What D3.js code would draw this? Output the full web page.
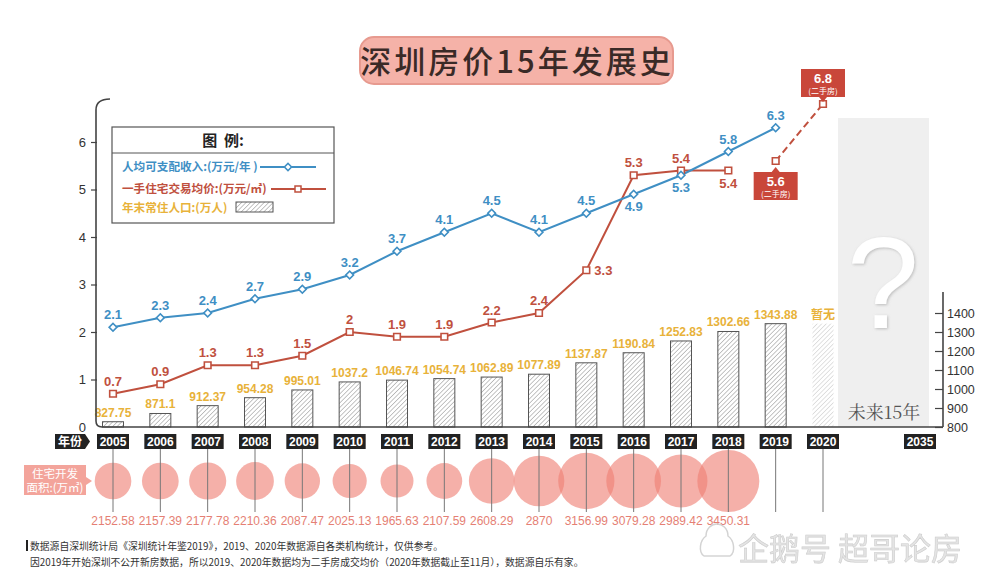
<!DOCTYPE html>
<html><head><meta charset="utf-8">
<script src="https://cdn.jsdelivr.net/npm/d3@7/dist/d3.min.js"></script>
<style>
body{margin:0;background:#fff}
svg{display:block}
text{font-family:"Liberation Sans",Arial,"Noto Sans CJK SC",sans-serif}
.cjk{font-family:"Noto Sans CJK SC","Liberation Sans",sans-serif}
</style>
</head><body>
<svg id="c" width="1000" height="584"></svg>
<script>
// ---------- data ----------
const years = ["2005","2006","2007","2008","2009","2010","2011","2012","2013","2014","2015","2016","2017","2018","2019","2020"];
const futureYear = "2035";
const income = [2.1,2.3,2.4,2.7,2.9,3.2,3.7,4.1,4.5,4.1,4.5,4.9,5.3,5.8,6.3,null];
const newHomePrice = [0.7,0.9,1.3,1.3,1.5,2,1.9,1.9,2.2,2.4,3.3,5.3,5.4,5.4,null,null];
const resalePrice = [null,null,null,null,null,null,null,null,null,null,null,null,null,null,5.6,6.8];
const population = [827.75,871.1,912.37,954.28,995.01,1037.2,1046.74,1054.74,1062.89,1077.89,1137.87,1190.84,1252.83,1302.66,1343.88,null];
const devArea = [2152.58,2157.39,2177.78,2210.36,2087.47,2025.13,1965.63,2107.59,2608.29,2870,3156.99,3079.28,2989.42,3450.31,null,null];
const leftTicks = [0,1,2,3,4,5,6];
const rightTicks = [800,900,1000,1100,1200,1300,1400];
const title = "深圳房价15年发展史";
const legendTitle = "图  例:";
const legendIncome = "人均可支配收入:(万元/年 )";
const legendPrice = "一手住宅交易均价:(万元/㎡)";
const legendPop = "年末常住人口:(万人)";
const noDataLabel = "暂无";
const resaleNote = "(二手房)";
const futureLabel = "未来15年";
const yearTag = "年份";
const areaTag = ["住宅开发","面积:(万㎡)"];
const notes = ["数据源自深圳统计局《深圳统计年鉴2019》，2019、2020年数据源自各类机构统计，仅供参考。",
               "因2019年开始深圳不公开新房数据，所以2019、2020年数据均为二手房成交均价（2020年数据截止至11月），数据源自乐有家。"];
const watermark = "企鹅号 超哥论房";
// label placement choices
const incomeBelow = new Set(["2016","2017"]);
const priceBelow = new Set(["2018"]);
const priceRight = new Set(["2015"]);

// ---------- colours ----------
const BLUE="#3f8fc4", RED="#c0503e", YEL="#e8b23a", PINK="#ef7f74", AX="#444";

const svg = d3.select("#c");
const defs = svg.append("defs");
const hatch = defs.append("pattern").attr("id","hatch").attr("width",3.2).attr("height",3.2)
  .attr("patternUnits","userSpaceOnUse").attr("patternTransform","rotate(45)");
hatch.append("rect").attr("width",3.2).attr("height",3.2).attr("fill","#fff");
hatch.append("line").attr("x1",0).attr("y1",0).attr("x2",0).attr("y2",3.2).attr("stroke","#8a8a8a").attr("stroke-width",1);
const hatch2 = defs.append("pattern").attr("id","hatch2").attr("width",3.2).attr("height",3.2)
  .attr("patternUnits","userSpaceOnUse").attr("patternTransform","rotate(45)");
hatch2.append("rect").attr("width",3.2).attr("height",3.2).attr("fill","#fff");
hatch2.append("line").attr("x1",0).attr("y1",0).attr("x2",0).attr("y2",3.2).attr("stroke","#c4c4c4").attr("stroke-width",1);
const sh = defs.append("filter").attr("id","sh").attr("x","-20%").attr("y","-20%").attr("width","140%").attr("height","140%");
sh.append("feDropShadow").attr("dx",1).attr("dy",1).attr("stdDeviation",1.5).attr("flood-color","#999").attr("flood-opacity",0.6);

// ---------- scales ----------
const x = d3.scalePoint().domain(years).range([113, 823]);
const yL = d3.scaleLinear().domain([0,6]).range([427, 142]);
const yR = d3.scaleLinear().domain([800,1400]).range([427, 313]);
const rA = d3.scaleLinear().domain([1965.63, 3450.31]).range([16.5, 31]);
const X0 = 96, XR = 943, Y0 = 427;

// ---------- title ----------
svg.append("rect").attr("x",360).attr("y",37).attr("width",313).attr("height",47).attr("rx",14)
  .attr("fill","#f5b2a8").attr("stroke","#e79a8f").attr("stroke-width",2);
svg.append("text").attr("class","cjk").attr("x",517).attr("y",73).attr("text-anchor","middle")
  .attr("font-size",31).attr("font-weight",500).attr("letter-spacing",3).attr("fill","#3a2a27").text(title);

// ---------- future box ----------
svg.append("rect").attr("x",838).attr("y",118).attr("width",91).attr("height",Y0-118).attr("fill","#efefef");
svg.append("text").attr("x",883).attr("y",328).attr("text-anchor","middle").attr("font-family","Liberation Serif, DejaVu Serif, serif")
  .attr("font-size",130).attr("fill","#fff").attr("filter","url(#sh)").text("?");
svg.append("text").attr("class","cjk").attr("x",884).attr("y",419).attr("text-anchor","middle")
  .style("font-family","'Noto Serif CJK SC','Liberation Serif',serif").attr("font-size",18).attr("fill","#555").text(futureLabel);

// ---------- bars ----------
const popData = years.map((y,i)=>({y, v: population[i], ph: population[i]==null}));
// placeholder bar for missing year uses last known value
popData.forEach((d,i)=>{ if(d.v==null) d.show = population[i-1]; else d.show = d.v; });
svg.append("g").selectAll("rect").data(popData).join("rect")
  .attr("x",d=>x(d.y)-10.5).attr("width",21)
  .attr("y",d=>yR(d.show)).attr("height",d=>Y0-yR(d.show))
  .attr("fill",d=>d.ph?"url(#hatch2)":"url(#hatch)")
  .attr("stroke",d=>d.ph?"none":"#555").attr("stroke-width",1);
svg.append("g").selectAll("text").data(popData).join("text")
  .attr("x",d=>x(d.y)).attr("y",d=>yR(d.show)-5).attr("text-anchor","middle")
  .attr("font-size",12).attr("font-weight",700).attr("fill",YEL)
  .attr("class",d=>d.ph?"cjk":null)
  .text(d=>d.ph?noDataLabel:String(d.v));

// ---------- axes ----------
svg.append("path").attr("d",`M110,99 Q${X0},99 ${X0},110 L${X0},${Y0-6} Q${X0},${Y0} ${X0+6},${Y0} L${XR},${Y0}`)
  .attr("fill","none").attr("stroke",AX).attr("stroke-width",1.6);
const gl = svg.append("g").attr("transform",`translate(${X0+1},0)`)
  .call(d3.axisLeft(yL).tickValues(leftTicks).tickSize(6).tickPadding(5).tickFormat(d3.format("d")));
gl.select(".domain").remove();
gl.selectAll("line").attr("stroke",AX).attr("stroke-width",1.2);
gl.selectAll(".tick").filter(d=>d===0).select("line").remove();
gl.selectAll("text").attr("font-size",13).attr("fill","#333").attr("font-family","Liberation Sans, Arial");
svg.append("line").attr("x1",XR).attr("x2",XR).attr("y1",292).attr("y2",Y0).attr("stroke",AX).attr("stroke-width",1.6);
const gr = svg.append("g").attr("transform",`translate(${XR},0)`)
  .call(d3.axisRight(yR).tickValues(rightTicks).tickSize(0).tickPadding(4).tickFormat(d3.format("d")));
gr.select(".domain").remove();
gr.selectAll(".tick").append("line").attr("x1",-8).attr("x2",0).attr("stroke",AX).attr("stroke-width",1.2);
gr.selectAll("text").attr("font-size",12.5).attr("fill","#333").attr("font-family","Liberation Sans, Arial");

// ---------- lines ----------
const incData = years.map((y,i)=>({y,v:income[i]})).filter(d=>d.v!=null);
const priData = years.map((y,i)=>({y,v:newHomePrice[i]})).filter(d=>d.v!=null);
const resData = years.map((y,i)=>({y,v:resalePrice[i]})).filter(d=>d.v!=null);
const line = d3.line().x(d=>x(d.y)).y(d=>yL(d.v));
svg.append("path").datum(priData).attr("d",line).attr("fill","none").attr("stroke",RED).attr("stroke-width",2);
svg.append("path").datum(resData).attr("d",line).attr("fill","none").attr("stroke",RED).attr("stroke-width",2).attr("stroke-dasharray","7,4");
svg.append("path").datum(incData).attr("d",line).attr("fill","none").attr("stroke",BLUE).attr("stroke-width",2);

const sq = d3.symbol().type(d3.symbolSquare).size(44);
svg.append("g").selectAll("path").data(priData.concat(resData)).join("path")
  .attr("d",sq).attr("transform",d=>`translate(${x(d.y)},${yL(d.v)})`)
  .attr("fill","#fff").attr("stroke",RED).attr("stroke-width",1.6);
svg.append("g").selectAll("path").data(incData).join("path")
  .attr("d",d3.symbol().type(d3.symbolSquare).size(30)).attr("transform",d=>`translate(${x(d.y)},${yL(d.v)}) rotate(45)`)
  .attr("fill","#fff").attr("stroke",BLUE).attr("stroke-width",1.6);

svg.append("g").selectAll("text").data(incData).join("text")
  .attr("x",d=>x(d.y)).attr("y",d=>incomeBelow.has(d.y)? yL(d.v)+17 : yL(d.v)-8)
  .attr("text-anchor","middle").attr("font-size",13).attr("font-weight",700).attr("fill",BLUE).text(d=>d.v);
svg.append("g").selectAll("text").data(priData).join("text")
  .attr("x",d=>priceRight.has(d.y)? x(d.y)+8 : x(d.y))
  .attr("y",d=>priceBelow.has(d.y)? yL(d.v)+17 : priceRight.has(d.y)? yL(d.v)+5 : yL(d.v)-8)
  .attr("text-anchor",d=>priceRight.has(d.y)?"start":"middle")
  .attr("font-size",13).attr("font-weight",700).attr("fill",RED).text(d=>d.v);

// resale callouts
resData.forEach((d,i)=>{
  const cx = x(d.y), cy = yL(d.v);
  const below = i===0;
  const top = below ? cy+11 : cy-35;
  const g = svg.append("g");
  g.append("rect").attr("x",cx-22).attr("y",top).attr("width",44).attr("height",28).attr("fill","#c9473a");
  const tri = below ? `M${cx-4},${top} L${cx},${top-5} L${cx+4},${top}Z` : `M${cx-4},${top+28} L${cx},${top+33} L${cx+4},${top+28}Z`;
  g.append("path").attr("d",tri).attr("fill","#c9473a");
  g.append("text").attr("x",cx).attr("y",top+14).attr("text-anchor","middle").attr("font-size",13).attr("font-weight",700).attr("fill","#fff").text(d.v);
  g.append("text").attr("class","cjk").attr("x",cx).attr("y",top+24.5).attr("text-anchor","middle").attr("font-size",8).attr("fill","#fff").text(resaleNote);
});

// ---------- legend ----------
const lg = svg.append("g");
lg.append("rect").attr("x",112).attr("y",127).attr("width",222).attr("height",96).attr("fill","#fff").attr("stroke","#555").attr("stroke-width",1.2);
lg.append("line").attr("x1",112).attr("x2",334).attr("y1",153).attr("y2",153).attr("stroke","#555").attr("stroke-width",1);
lg.append("text").attr("class","cjk").attr("x",223).attr("y",146).attr("text-anchor","middle").attr("font-size",15).attr("font-weight",700).attr("fill","#222").attr("xml:space","preserve").text(legendTitle);
lg.append("text").attr("class","cjk").attr("x",122).attr("y",171).attr("font-size",11.6).attr("font-weight",700).attr("fill",BLUE).text(legendIncome);
lg.append("line").attr("x1",260).attr("x2",316).attr("y1",167).attr("y2",167).attr("stroke",BLUE).attr("stroke-width",2);
lg.append("path").attr("d",d3.symbol().type(d3.symbolSquare).size(26)).attr("transform","translate(288,167) rotate(45)").attr("fill","#fff").attr("stroke",BLUE).attr("stroke-width",1.5);
lg.append("text").attr("class","cjk").attr("x",122).attr("y",193).attr("font-size",11.6).attr("font-weight",700).attr("fill",RED).text(legendPrice);
lg.append("line").attr("x1",271).attr("x2",326).attr("y1",189).attr("y2",189).attr("stroke",RED).attr("stroke-width",2);
lg.append("path").attr("d",d3.symbol().type(d3.symbolSquare).size(36)).attr("transform","translate(298,189)").attr("fill","#fff").attr("stroke",RED).attr("stroke-width",1.5);
lg.append("text").attr("class","cjk").attr("x",122).attr("y",212).attr("font-size",11.6).attr("font-weight",700).attr("fill",YEL).text(legendPop);
lg.append("rect").attr("x",236).attr("y",202).attr("width",37).attr("height",10).attr("fill","url(#hatch)").attr("stroke","#555").attr("stroke-width",1);

// ---------- year tags ----------
const yt = svg.append("g");
yt.append("path").attr("d","M55,434 L85,434 L90,441.5 L85,449 L55,449Z").attr("fill","#222");
yt.append("text").attr("class","cjk").attr("x",70).attr("y",446).attr("text-anchor","middle").attr("font-size",12).attr("font-weight",700).attr("fill","#fff").text(yearTag);
const tagYears = years.map(y=>({y, cx:x(y)})).concat([{y:futureYear, cx:920}]);
yt.selectAll("rect.t").data(tagYears).join("rect").attr("class","t")
  .attr("x",d=>d.cx-16).attr("y",434).attr("width",32).attr("height",15).attr("fill","#222");
yt.selectAll("text.t").data(tagYears).join("text").attr("class","t")
  .attr("x",d=>d.cx).attr("y",446).attr("text-anchor","middle").attr("font-size",12).attr("font-weight",700).attr("fill","#fff").text(d=>d.y);

// ---------- development area bubbles ----------
const areaData = years.map((y,i)=>({y,v:devArea[i]}));
const CY = 481;
svg.append("g").selectAll("circle").data(areaData.filter(d=>d.v!=null)).join("circle")
  .attr("cx",d=>x(d.y)).attr("cy",CY).attr("r",d=>rA(d.v)).attr("fill",PINK).attr("fill-opacity",0.62);
svg.append("g").selectAll("line").data(areaData).join("line")
  .attr("x1",d=>x(d.y)).attr("x2",d=>x(d.y)).attr("y1",449).attr("y2",512).attr("stroke","#777").attr("stroke-width",1);
svg.append("g").selectAll("text").data(areaData.filter(d=>d.v!=null)).join("text")
  .attr("x",d=>x(d.y)).attr("y",525).attr("text-anchor","middle").attr("font-size",12).attr("fill","#e57f74").text(d=>String(d.v));
// area tag
svg.append("path").attr("d","M24,465 L86,465 L86,477 L92,481 L86,485 L86,495 L24,495Z").attr("fill","#f3a49b");
svg.append("text").attr("class","cjk").attr("x",55).attr("y",478).attr("text-anchor","middle").attr("font-size",11.5).attr("fill","#fff").text(areaTag[0]);
svg.append("text").attr("class","cjk").attr("x",55).attr("y",492).attr("text-anchor","middle").attr("font-size",11.5).attr("fill","#fff").text(areaTag[1]);

// ---------- footnotes ----------
svg.append("rect").attr("x",26).attr("y",540).attr("width",2).attr("height",11).attr("fill","#222");
svg.append("text").attr("class","cjk").attr("x",30).attr("y",550).attr("font-size",9.8).attr("fill","#333").text(notes[0]);
svg.append("text").attr("class","cjk").attr("x",30).attr("y",566).attr("font-size",9.8).attr("fill","#333").text(notes[1]);

// ---------- watermark ----------
const wm = svg.append("g").attr("opacity",0.9);
wm.append("path").attr("d","M704,556 C698,552 700,540 706,536 C706,528 712,524 717,524 C722,524 728,528 728,536 C734,540 736,552 730,556 Z")
  .attr("fill","none").attr("stroke","#cfcfcf").attr("stroke-width",1.5);
wm.append("text").attr("class","cjk").attr("x",738).attr("y",560).attr("font-size",31).attr("fill","#e2e2e2").attr("stroke","#c8c8c8").attr("stroke-width",0.6).text(watermark);
</script>
</body></html>
